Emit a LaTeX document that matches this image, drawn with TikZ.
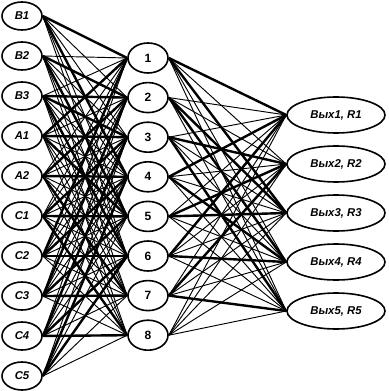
\documentclass[tikz,border=0pt]{standalone}
\usepackage{fontspec}
\setmainfont{Liberation Sans}
\usetikzlibrary{shapes.geometric}
\begin{document}
\begin{tikzpicture}[x=0.75pt,y=-0.75pt,
  inp/.style={ellipse,draw,line width=1.2pt,minimum width=30pt,minimum height=21pt,inner sep=0pt,
    font=\bfseries\itshape\fontsize{8.5}{10}\selectfont},
  hid/.style={ellipse,draw,line width=1.2pt,minimum width=30pt,minimum height=22.5pt,inner sep=0pt,
    font=\bfseries\fontsize{9}{10}\selectfont},
  outp/.style={ellipse,draw,line width=1.2pt,minimum width=73.5pt,minimum height=27pt,inner sep=0pt,
    font=\bfseries\itshape\fontsize{8.5}{10}\selectfont},
  wk/.style={line width=0.7pt},
  st/.style={line width=1.8pt}]
\useasboundingbox (0,0) rectangle (388,391);
\foreach \n [count=\i from 0] in {B1,B2,B3,A1,A2,C1,C2,C3,C4,C5}
  \node[inp] (L\i) at (22,{16+40*\i}) {\n};
\foreach \j in {1,...,8}
  \node[hid] (M\j) at (148,{58+39.6*(\j-1)}) {\j};
\foreach \k in {1,...,5}
  \node[outp] (R\k) at (336,{115+49*(\k-1)}) {Вых\k, R\k};
% input -> hidden
\foreach \i in {0,...,9}
  \foreach \j in {1,...,8}{
    \pgfmathsetmacro\dd{abs(16+40*\i-58-39.6*(\j-1))}
    \ifdim\dd pt<252pt \draw[wk] (L\i.east) -- (M\j.west);\fi
  }
\foreach \i/\j in {0/1,0/4,1/2,1/5,2/2,2/3,2/6,3/3,3/1,3/5,4/4,4/2,4/7,5/5,5/3,5/8,6/6,6/4,6/1,7/7,7/5,7/2,8/8,8/6,8/3,9/6,9/4}
  \draw[st] (L\i.east) -- (M\j.west);
% hidden -> output
\foreach \j in {1,...,8}
  \foreach \k in {1,...,5}
    \draw[wk] (M\j.east) -- (R\k.west);
\foreach \j/\k in {1/1,1/3,2/3,2/4,3/2,3/5,4/1,4/4,5/3,5/2,6/4,6/1,7/5,7/2}
  \draw[st] (M\j.east) -- (R\k.west);
\end{tikzpicture}
\end{document}
